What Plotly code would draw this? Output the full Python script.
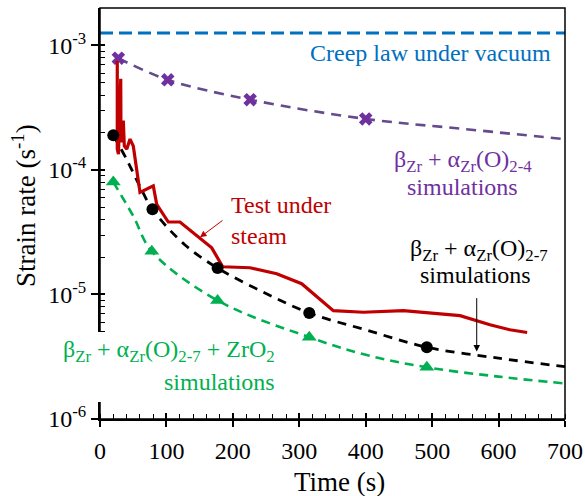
import plotly.graph_objects as go

# ---------------- data ----------------
vacuum_t = [0, 700]
vacuum_rate = [1.26e-3, 1.26e-3]

test_t = [26.0, 26.0, 27.8, 31.2, 31.6, 35.1, 36.6, 40.2, 45.2, 50.1, 60.2, 80.2,
          85.4, 102.8, 120.4, 150.5, 168.2, 184.7, 225.8, 266.0, 286.0, 303.6,
          351.2, 396.4, 456.6, 542.0, 587.0, 617.0, 643.0]
test_rate = [7.5e-4, 1.47e-4, 1.34e-4, 5.4e-4, 1.67e-4, 2.49e-4, 1.56e-4, 1.47e-4,
             1.77e-4, 1.56e-4, 6.6e-5, 7.45e-5, 5.3e-5, 3.82e-5, 3.82e-5, 2.85e-5,
             2.37e-5, 1.67e-5, 1.64e-5, 1.47e-5, 1.32e-5, 1.22e-5, 7.41e-6, 7.2e-6,
             7.41e-6, 6.76e-6, 5.71e-6, 5.21e-6, 4.95e-6]

sim24_curve_t = [27.6, 102, 226, 400, 550, 700]
sim24_curve_rate = [7.9e-4, 5.3e-4, 3.67e-4, 2.57e-4, 2.13e-4, 1.77e-4]
sim24_pts_t = [27.6, 102, 226, 400]
sim24_pts_rate = [7.9e-4, 5.3e-4, 3.67e-4, 2.57e-4]

sim27_curve_t = [20, 40, 60, 79, 128, 177, 245, 315, 400, 492, 600, 700]
sim27_curve_rate = [1.9e-4, 1.22e-4, 7.4e-5, 4.83e-5, 2.5e-5, 1.63e-5, 1.05e-5,
                    7.1e-6, 5.2e-6, 3.77e-6, 3.08e-6, 2.63e-6]
sim27_pts_t = [20, 79, 177, 315, 492]
sim27_pts_rate = [1.9e-4, 4.83e-5, 1.63e-5, 7.1e-6, 3.77e-6]

simZrO2_curve_t = [20, 50, 78, 177, 315, 400, 492, 600, 700]
simZrO2_curve_rate = [8.0e-5, 4.27e-5, 2.22e-5, 8.95e-6, 4.54e-6, 3.28e-6, 2.6e-6,
                      2.19e-6, 1.93e-6]
simZrO2_pts_t = [20, 78, 177, 315, 492]
simZrO2_pts_rate = [8.0e-5, 2.22e-5, 8.95e-6, 4.54e-6, 2.6e-6]

x_ticks = [0, 100, 200, 300, 400, 500, 600, 700]
y_tickvals = [1e-6, 1e-5, 1e-4, 1e-3]
y_ticktext = ["10<sup>-6</sup>", "10<sup>-5</sup>", "10<sup>-4</sup>", "10<sup>-3</sup>"]
y_minor = [k * 10.0 ** d for d in (-6, -5, -4, -3) for k in range(2, 10) if k * 10.0 ** d < 2e-3]

# ---------------- styling ----------------
FONT = "Liberation Serif"
BLUE = "#0070c0"
RED = "#c00000"
PURPLE_LINE = "#654a8c"
PURPLE = "#7030a0"
GREEN = "#00b050"
BLACK = "#000000"

fig = go.Figure()

fig.add_trace(go.Scatter(x=vacuum_t, y=vacuum_rate, mode="lines",
                         line=dict(color=BLUE, width=3.2, dash="13px,6px")))
fig.add_trace(go.Scatter(x=sim24_curve_t, y=sim24_curve_rate, mode="lines",
                         line=dict(color=PURPLE_LINE, width=2.6, dash="10px,7px", shape="spline")))
fig.add_trace(go.Scatter(x=sim24_pts_t, y=sim24_pts_rate, mode="markers",
                         marker=dict(symbol="x", size=12, color=PURPLE, line=dict(width=0))))
fig.add_trace(go.Scatter(x=simZrO2_curve_t, y=simZrO2_curve_rate, mode="lines",
                         line=dict(color=GREEN, width=2.6, dash="9px,6px", shape="spline")))
fig.add_trace(go.Scatter(x=simZrO2_pts_t, y=simZrO2_pts_rate, mode="markers",
                         marker=dict(symbol="triangle-up", size=13, color=GREEN)))
fig.add_trace(go.Scatter(x=sim27_curve_t, y=sim27_curve_rate, mode="lines",
                         line=dict(color=BLACK, width=2.8, dash="9px,7px", shape="spline")))
fig.add_trace(go.Scatter(x=test_t, y=test_rate, mode="lines",
                         line=dict(color=RED, width=3.2)))
fig.add_trace(go.Scatter(x=sim27_pts_t, y=sim27_pts_rate, mode="markers",
                         marker=dict(symbol="circle", size=12, color=BLACK)))
# invisible trace for the overlay axes (inner half of crossing major ticks)
fig.add_trace(go.Scatter(x=[None], y=[None], xaxis="x2", yaxis="y2", mode="lines",
                         showlegend=False, hoverinfo="skip"))

tickfont = dict(family=FONT, size=24, color="black")
fig.update_layout(
    width=585, height=496,
    margin=dict(l=100, r=20, t=8, b=77, autoexpand=False),
    paper_bgcolor="white", plot_bgcolor="white",
    showlegend=False,
    font=dict(family=FONT, color="black"),
    xaxis=dict(range=[0, 700], tickvals=x_ticks, ticks="outside", ticklen=6, tickwidth=1.5,
               tickcolor="black", showline=True, linecolor="black", linewidth=2,
               showgrid=False, zeroline=False, tickfont=tickfont, automargin=False,
               ticklabelstandoff=3,
               minor=dict(dtick=20, ticks="inside", ticklen=5, tickwidth=1.3, tickcolor="black",
                          showgrid=False)),
    yaxis=dict(type="log", range=[-6, -2.699], tickvals=y_tickvals, ticktext=y_ticktext,
               ticks="outside", ticklen=7, tickwidth=1.5, tickcolor="black",
               showline=True, linecolor="black", linewidth=2, showgrid=False,
               zeroline=False, tickfont=tickfont, automargin=False,
               minor=dict(tickvals=y_minor, ticks="inside", ticklen=5, tickwidth=1.3,
                          tickcolor="black", showgrid=False)),
    xaxis2=dict(overlaying="x", anchor="y2", side="bottom", range=[0, 700], tickvals=x_ticks,
                ticks="inside", ticklen=6, tickwidth=1.5, tickcolor="black", automargin=False,
                showticklabels=False, showline=False, showgrid=False, zeroline=False),
    yaxis2=dict(overlaying="y", anchor="x2", side="left", type="log", range=[-6, -2.699],
                tickvals=y_tickvals, ticks="inside", ticklen=5, tickwidth=1.5, automargin=False,
                tickcolor="black", showticklabels=False, showline=False, showgrid=False,
                zeroline=False),
)

# frame (top/right sides)
fig.add_shape(type="rect", xref="paper", yref="paper", x0=0, x1=1, y0=0, y1=1,
              line=dict(color="black", width=1.5), layer="above")
# white box behind the green label (breaks the left axis line as in the reference)
fig.add_shape(type="rect", xref="paper", yref="paper", x0=-0.08, x1=0.38,
              y0=(419 - 402) / 411, y1=(419 - 332) / 411,
              line=dict(width=0), fillcolor="white", layer="above")

def px2paper(px, py):
    return (px - 100) / 465, (419 - py) / 411

def label(text, px, py, color, xanchor="center", size=24):
    xp, yp = px2paper(px, py)
    fig.add_annotation(text=text, x=xp, y=yp, xref="paper", yref="paper",
                       xanchor=xanchor, yanchor="middle", showarrow=False,
                       font=dict(family=FONT, size=size, color=color))

label("Creep law under vacuum", 430, 53, BLUE)
label("β<sub>Zr</sub> + α<sub>Zr</sub>(O)<sub>2-4</sub>", 463, 161, PURPLE)
label("simulations", 462.5, 187, PURPLE)
label("Test under", 229, 205, RED, xanchor="left")
label("steam", 229, 236, RED, xanchor="left")
label("β<sub>Zr</sub> + α<sub>Zr</sub>(O)<sub>2-7</sub>", 479, 250, BLACK)
label("simulations", 475, 275, BLACK)
label("β<sub>Zr</sub> + α<sub>Zr</sub>(O)<sub>2-7</sub> + ZrO<sub>2</sub>", 277, 351, GREEN, xanchor="right")
label("simulations", 277, 382, GREEN, xanchor="right")

# axis titles
fig.add_annotation(text="Time (s)", x=(339 - 100) / 465, y=(419 - 482) / 411,
                   xref="paper", yref="paper", showarrow=False, xanchor="center",
                   yanchor="middle", font=dict(family=FONT, size=27, color="black"))
fig.add_annotation(text="Strain rate (s<sup>-1</sup>)", x=(24 - 100) / 465,
                   y=(419 - 206) / 411, xref="paper", yref="paper", showarrow=False,
                   textangle=-90, xanchor="center", yanchor="middle",
                   font=dict(family=FONT, size=27, color="black"))

# pointer arrows (log axis -> annotation y in log10 units)
fig.add_annotation(text="", x=150.5, y=-4.541, ax=186.7, ay=-4.396,
                   xref="x", yref="y", axref="x", ayref="y", showarrow=True,
                   arrowhead=2, arrowsize=1.3, arrowwidth=1, arrowcolor=RED)
fig.add_annotation(text="", x=567.1, y=-5.458, ax=567.1, ay=-5.017,
                   xref="x", yref="y", axref="x", ayref="y", showarrow=True,
                   arrowhead=2, arrowsize=1.3, arrowwidth=1, arrowcolor=BLACK)

fig.write_html("out.html", config={"displayModeBar": False},
               post_script="document.body.style.margin='0';")
